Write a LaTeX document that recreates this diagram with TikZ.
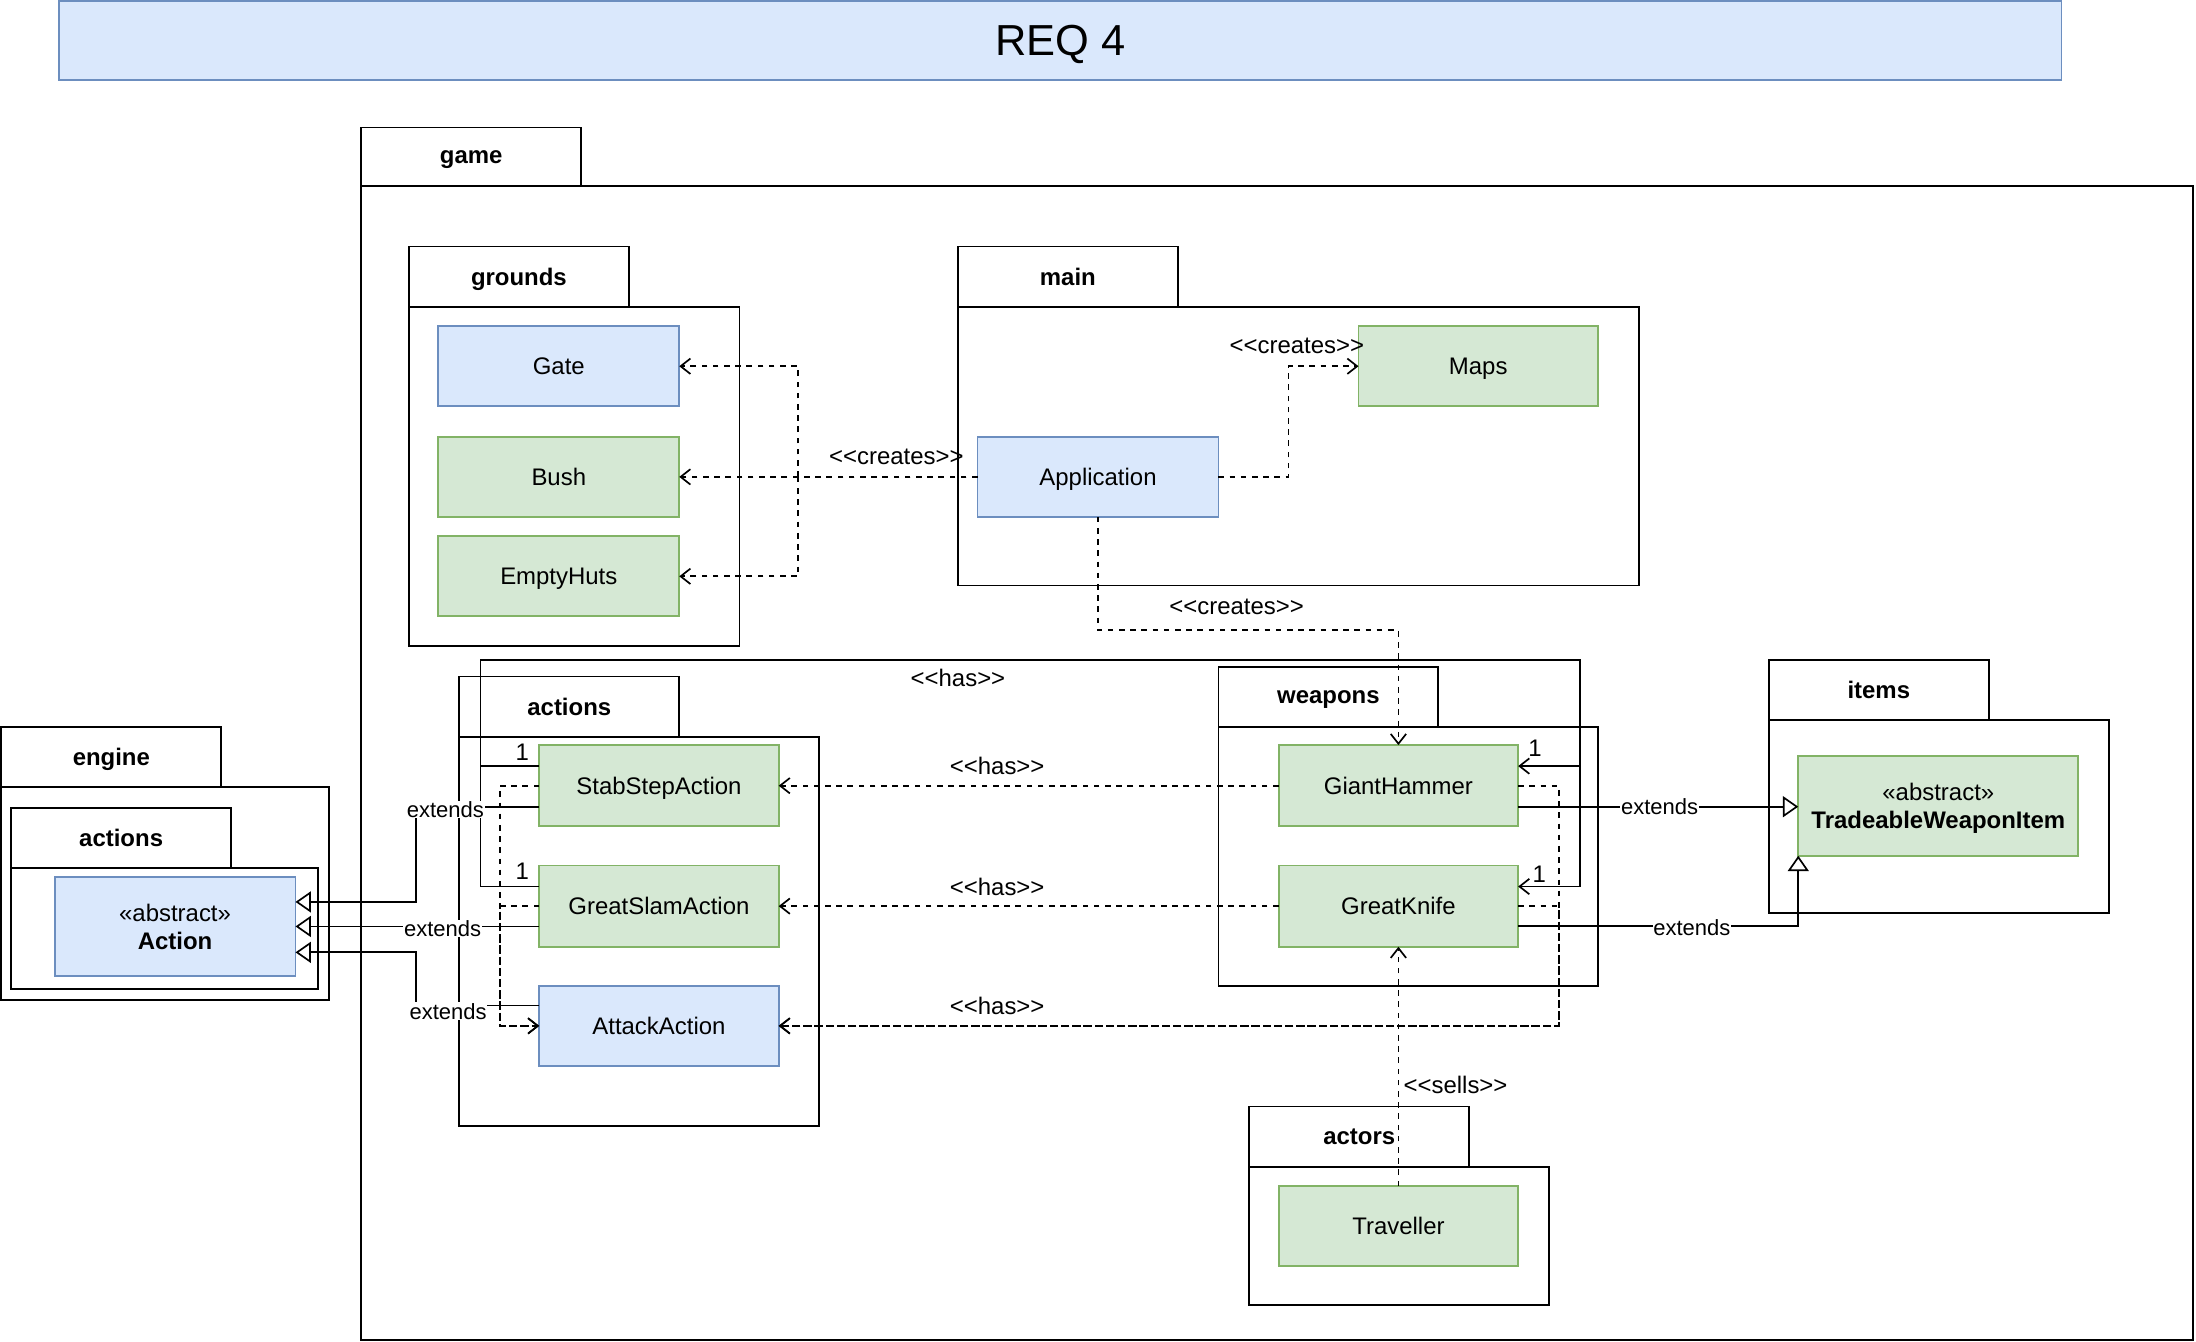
\documentclass[tikz,border=0pt]{standalone}
\usepackage{fontspec}
\setmainfont{Liberation Sans}
\usetikzlibrary{arrows.meta,calc}
\definecolor{bfill}{HTML}{DAE8FC}
\definecolor{bline}{HTML}{6C8EBF}
\definecolor{gfill}{HTML}{D5E8D4}
\definecolor{gline}{HTML}{82B366}
\newcommand{\xlt}{<\kern0pt<}
\newcommand{\xgt}{>\kern0pt>}
\begin{document}
\begin{tikzpicture}[x=1pt,y=-1pt,
  box/.style={draw, line width=1.3pt, outer sep=0pt, inner sep=0pt, anchor=north west},
  pkgtab/.style={box, text depth=0pt, font=\fontsize{17.1}{20}\selectfont\bfseries},
  cls/.style={draw, line width=1.3pt, outer sep=0pt, inner sep=2pt, anchor=north west,
              text depth=0pt, font=\fontsize{17.1}{20}\selectfont, align=center},
  bluecls/.style={cls, fill=bfill, draw=bline},
  greencls/.style={cls, fill=gfill, draw=gline},
  dep/.style={line width=1.25pt, dash pattern=on 4pt off 4pt, -{Straight Barb[length=7pt,width=11pt,line width=1.2pt]}},
  assoc/.style={line width=1.25pt, -{Straight Barb[length=7pt,width=11pt,line width=1.2pt]}},
  ext/.style={line width=1.25pt, -{Triangle[open,length=11pt,width=15pt,line width=1.2pt,fill=white]}},
  lbl/.style={font=\fontsize{17.1}{20}\selectfont, inner sep=1pt},
  lblw/.style={lbl, fill=white},
  extlbl/.style={font=\fontsize{15.7}{18}\selectfont, inner sep=0.5pt, fill=white},
]
\useasboundingbox (0,0) rectangle (1568,958.2);

% title
\node[box, draw=bline, fill=bfill, minimum width=1430, minimum height=56, text depth=0pt,
      font=\fontsize{31}{36}\selectfont] (title) at (42,1) {REQ 4};

% packages
\node[pkgtab, minimum width=157, minimum height=42] (gameTab) at (258,91) {game};
\node[box, minimum width=1308, minimum height=824] (gameBody) at (258,133) {};

\node[pkgtab, minimum width=157, minimum height=43] (groundsTab) at (292,176) {grounds};
\node[box, minimum width=236, minimum height=242] (groundsBody) at (292,219) {};

\node[pkgtab, minimum width=157, minimum height=43] (mainTab) at (684,176) {main};
\node[box, minimum width=486, minimum height=199] (mainBody) at (684,219) {};

\node[pkgtab, minimum width=157, minimum height=43] (weaponsTab) at (870,476) {weapons};
\node[box, minimum width=271, minimum height=185] (weaponsBody) at (870,519) {};

\node[pkgtab, minimum width=157, minimum height=43] (actionsTab) at (328,483) {actions};
\node[box, minimum width=257, minimum height=278] (actionsBody) at (328,526) {};

\node[pkgtab, minimum width=157, minimum height=43] (engineTab) at (1,519) {engine};
\node[box, minimum width=234, minimum height=152] (engineBody) at (1,562) {};
\node[pkgtab, minimum width=157, minimum height=43] (eaTab) at (8,577) {actions};
\node[box, minimum width=219, minimum height=86] (eaBody) at (8,620) {};

\node[pkgtab, minimum width=157, minimum height=43] (itemsTab) at (1263,471) {items};
\node[box, minimum width=243, minimum height=138] (itemsBody) at (1263,514) {};

\node[pkgtab, minimum width=157, minimum height=43] (actorsTab) at (892,790) {actors};
\node[box, minimum width=214, minimum height=99] (actorsBody) at (892,833) {};

% classes
\node[bluecls, minimum width=172, minimum height=57] (gate) at (313,233) {Gate};
\node[greencls, minimum width=172, minimum height=57] (bush) at (313,312) {Bush};
\node[greencls, minimum width=172, minimum height=57] (huts) at (313,383) {EmptyHuts};
\node[greencls, minimum width=171, minimum height=57] (maps) at (970,233) {Maps};
\node[bluecls, minimum width=172, minimum height=57] (app) at (698,312) {Application};
\node[greencls, minimum width=171, minimum height=58] (hammer) at (913,532) {GiantHammer};
\node[greencls, minimum width=171, minimum height=58] (knife) at (913,618) {GreatKnife};
\node[greencls, minimum width=171, minimum height=58] (stab) at (385,532) {StabStepAction};
\node[greencls, minimum width=171, minimum height=58] (slam) at (385,618) {GreatSlamAction};
\node[bluecls, minimum width=171, minimum height=57] (attack) at (385,704) {AttackAction};
\node[bluecls, minimum width=172, minimum height=71] (action) at (39,626) {«abstract»\\\textbf{Action}};
\node[greencls, minimum width=200, minimum height=71] (twi) at (1284,540) {«abstract»\\\textbf{TradeableWeaponItem}};
\node[greencls, minimum width=171, minimum height=57] (trav) at (913,847) {Traveller};

% creates
\draw[dep] (app.west) -- (bush.east);
\draw[dep] (app.west) -- ++(-128,0) |- (gate.east);
\draw[dep] (app.west) -- ++(-128,0) |- (huts.east);
\draw[dep] (app.east) -- ++(50,0) |- (maps.west);
\draw[dep] (app.south) -- ++(0,81) -| (hammer.north);

% has (association)
\draw[assoc] ([yshift=14pt]stab.west) -| (343,471) -- (1128,471) |- ([yshift=14pt]hammer.east);
\draw[assoc] ([yshift=14pt]slam.west) -| (343,471) -- (1128,471) |- ([yshift=14pt]knife.east);

% has (dependency)
\draw[dep] (hammer.west) -- (stab.east);
\draw[dep] (knife.west) -- (slam.east);
\draw[dep] (hammer.east) -- ++(29,0) |- (attack.east);
\draw[dep] (knife.east) -- ++(29,0) |- (attack.east);
\draw[dep] (stab.west) -- ++(-28,0) |- (attack.west);
\draw[dep] (slam.west) -- ++(-28,0) |- (attack.west);

% sells
\draw[dep] (trav.north) -- (knife.south);

% extends
\draw[ext] ([yshift=-15pt]stab.west) -- ++(-88,0) |- ([yshift=17.5pt]action.east);
\draw[ext] ([yshift=-14.5pt]slam.west) -- ([yshift=-14.5pt]slam.west -| action.east);
\draw[ext] ([yshift=14.5pt]attack.west) -- ++(-88,0) |- ([yshift=-18.5pt]action.east);
\draw[ext] ([yshift=-15pt]hammer.east) -- ([yshift=-15pt]hammer.east -| twi.west);
\draw[ext] ([yshift=-14pt]knife.east) -| (twi.south west);

% labels
\node[lbl] (l1) at (640,326) {\xlt creates\xgt};
\node[lbl] (l2) at (926,247) {\xlt creates\xgt};
\node[lbl] (l3) at (883,433) {\xlt creates\xgt};
\node[lbl] (l4) at (684,484) {\xlt has\xgt};
\node[lblw] (l5) at (712,547) {\xlt has\xgt};
\node[lblw] (l6) at (712,633) {\xlt has\xgt};
\node[lblw] (l7) at (712,718) {\xlt has\xgt};
\node[lbl, anchor=west] (l8) at (1001,775) {\xlt sells\xgt};
\node[lbl] (o1) at (373,537) {1};
\node[lbl] (o2) at (373,622) {1};
\node[lbl] (o3) at (1096,534) {1};
\node[lbl] (o4) at (1099,624) {1};
\node[extlbl] (e1) at (318,578) {extends};
\node[extlbl] (e2) at (316,663) {extends};
\node[extlbl] (e3) at (320,722) {extends};
\node[extlbl] (e4) at (1185,576) {extends};
\node[extlbl] (e5) at (1208,662) {extends};
\end{tikzpicture}
\end{document}
